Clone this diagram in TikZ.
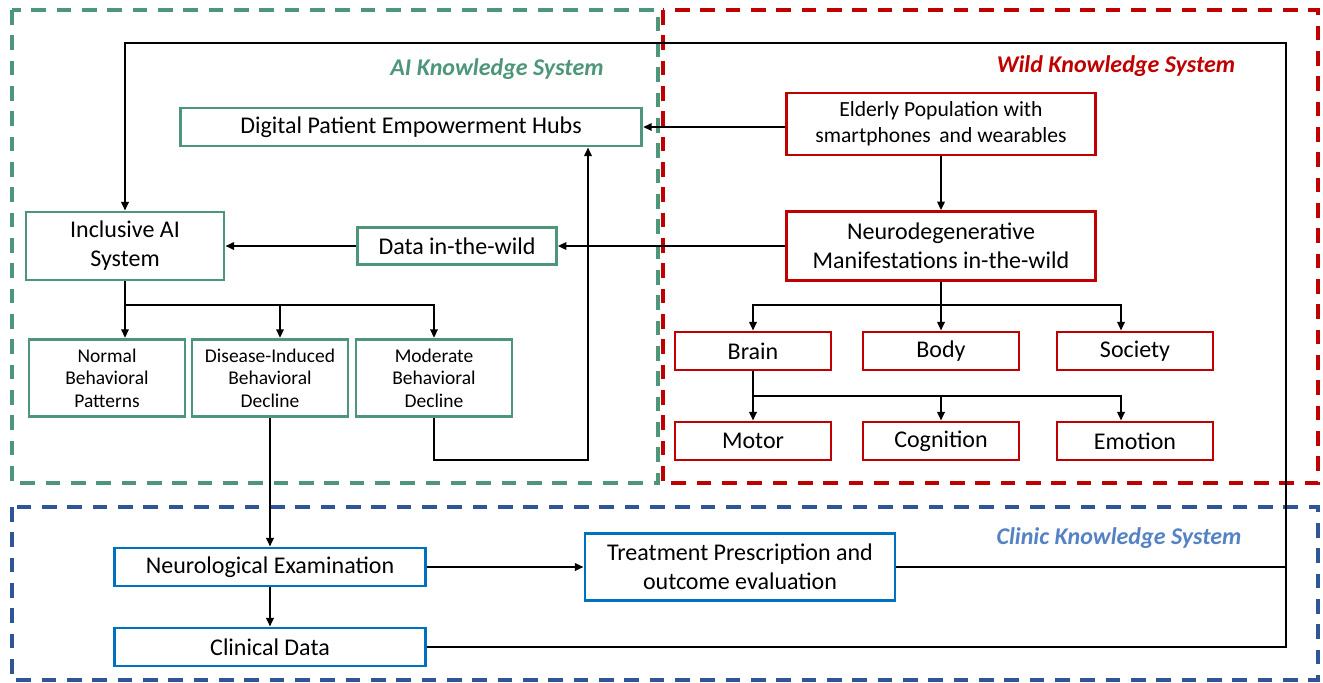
\documentclass[tikz,border=0pt]{standalone}
\usepackage{fontspec}
\setmainfont{Carlito}
\usepackage{tikz}
\usetikzlibrary{arrows.meta, positioning}
\usepackage{xcolor}
\definecolor{aigreen}{RGB}{78,150,122}
\definecolor{wildred}{RGB}{192,0,0}
\definecolor{clinicblue}{RGB}{0,112,192}
\definecolor{frameblue}{RGB}{47,85,151}
\definecolor{labelblue}{RGB}{84,130,196}
\tikzset{%
	every box/.style={
		rectangle,
		line width=2.1pt,
		align=center,
		inner sep=2pt,
		font=\fontsize{18}{21.75}\selectfont
	},
	aibox/.style={every box, draw=aigreen},
	wildbox/.style={every box, draw=wildred},
	clinicbox/.style={every box, draw=clinicblue},
	smalltext/.style={font=\fontsize{14.6}{17}\selectfont},
	system frame/.style={
		line width=2.8pt,
		dash pattern=on 11pt off 8pt
	},
	system label/.style={
		font=\fontsize{18}{21}\selectfont\bfseries\itshape
	},
}

\begin{document}
\begin{tikzpicture}[
				x=0.75pt, y=-0.75pt,
				conn/.style={draw, line width=2pt, -{Triangle[length=6.5pt, width=5.5pt]}},
				link/.style={draw, line width=2pt}
				]
				\useasboundingbox (0,0) rectangle (1323,682);
				
				% Knowledge system frames
				\draw[system frame, aigreen] (12,10) rectangle (658,483);
				\draw[system frame, wildred] (663,10) rectangle (1318,483);
				\draw[system frame, frameblue] (12,507) rectangle (1318,680);
				\node[system label, text=aigreen] (ailabel) at (497,69) {AI Knowledge System};
				\node[system label, text=wildred] (wildlabel) at (1116,66) {Wild Knowledge System};
				\node[system label, text=labelblue] (cliniclabel) at (1119,538) {Clinic Knowledge System};
				
				% AI knowledge system
				\node[aibox, minimum width=346pt, minimum height=28.5pt] (hubs) at (411,127) {Digital Patient Empowerment Hubs};
				\node[aibox, minimum width=148.5pt, minimum height=51pt] (inclusive) at (125,246) {Inclusive AI\\System};
				\node[aibox, minimum width=149pt, minimum height=28pt] (datawild) at (457,246) {Data in-the-wild};
				\node[aibox, smalltext, minimum width=117pt, minimum height=58pt] (normal) at (107,378) {Normal\\Behavioral\\Patterns};
				\node[aibox, smalltext, minimum width=117pt, minimum height=58pt] (disease) at (270,378) {Disease-Induced\\Behavioral\\Decline};
				\node[aibox, smalltext, minimum width=117pt, minimum height=58pt] (moderate) at (434,378) {Moderate\\Behavioral\\Decline};
				
				% Wild knowledge system
				\node[wildbox, font=\fontsize{16.2}{19.5}\selectfont, minimum width=231.5pt, minimum height=46.5pt] (elderly) at (941,124) {Elderly Population with\\smartphones\, and wearables};
				\node[wildbox, minimum width=231.5pt, minimum height=51.5pt] (neuro) at (941,246) {Neurodegenerative\\Manifestations in-the-wild};
				\node[wildbox, minimum width=117pt, minimum height=28.5pt] (brain) at (753,351) {Brain};
				\node[wildbox, minimum width=117pt, minimum height=28.5pt] (body) at (941,351) {Body};
				\node[wildbox, minimum width=117pt, minimum height=28.5pt] (society) at (1135,351) {Society};
				\node[wildbox, minimum width=117pt, minimum height=28.5pt] (motor) at (753,441) {Motor};
				\node[wildbox, minimum width=117pt, minimum height=28.5pt] (cognition) at (941,441) {Cognition};
				\node[wildbox, minimum width=117pt, minimum height=28.5pt] (emotion) at (1135,441) {Emotion};
				
				% Clinic knowledge system
				\node[clinicbox, minimum width=233pt, minimum height=28.5pt] (neurexam) at (270,567) {Neurological Examination};
				\node[clinicbox, minimum width=233pt, minimum height=28.5pt] (clinical) at (270,647) {Clinical Data};
				\node[clinicbox, minimum width=232.5pt, minimum height=50pt] (treatment) at (740,567) {Treatment Prescription and\\outcome evaluation};
				
				% Turning points
				\coordinate (loop) at (1286,43);
				\coordinate (aisplit) at (125,305);
				\coordinate (wildsplit) at (941,305);
				\coordinate (brainsplit) at (753,396);
				\coordinate (modturn) at (588,460);
				
				% Connectors
				\draw[conn] (clinical.east) -| (loop) -| (inclusive.north);
				\draw[link] (treatment.east) -- (treatment.east -| loop);
				\draw[conn] (elderly.west |- hubs.east) -- (hubs.east);
				\draw[conn] (elderly) -- (neuro);
				\draw[conn] (neuro.west) -- (datawild.east);
				\draw[conn] (datawild.west) -- (inclusive.east);
				\draw[conn] (moderate.south) |- (modturn) -- (hubs.south -| modturn);
				\draw[conn] (inclusive.south) -- (normal.north -| inclusive.south);
				\draw[conn] (aisplit) -| ([xshift=7.5pt]disease.north);
				\draw[conn] (aisplit) -| (moderate.north);
				\draw[conn] (disease.south) -- (neurexam.north);
				\draw[conn] (neuro.south) -- (body.north);
				\draw[conn] (wildsplit) -| (brain.north);
				\draw[conn] (wildsplit) -| ([xshift=-10.5pt]society.north);
				\draw[conn] (brain.south) -- (motor.north);
				\draw[conn] (brainsplit) -| (cognition.north);
				\draw[conn] (brainsplit) -| ([xshift=-10.5pt]emotion.north);
				\draw[conn] (neurexam.east) -- (treatment.west |- neurexam.east);
				\draw[conn] (neurexam.south) -- (clinical.north);
				
			\end{tikzpicture}
\end{document}
